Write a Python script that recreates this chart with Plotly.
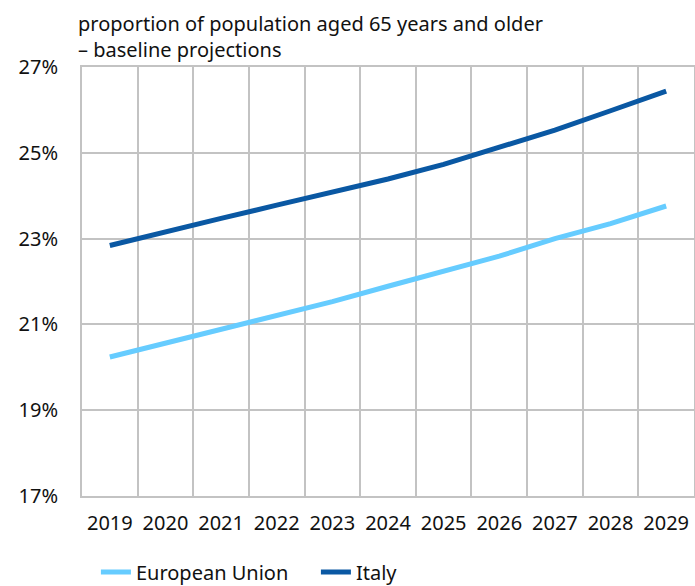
import plotly.graph_objects as go

years = ["2019", "2020", "2021", "2022", "2023", "2024", "2025", "2026", "2027", "2028", "2029"]
eu = [20.24, 20.56, 20.87, 21.20, 21.53, 21.89, 22.24, 22.59, 23.00, 23.35, 23.76]
italy = [22.84, 23.17, 23.47, 23.78, 24.09, 24.39, 24.73, 25.12, 25.53, 25.98, 26.44]
y_ticks = [17, 19, 21, 23, 25, 27]
y_labels = ["17%", "19%", "21%", "23%", "25%", "27%"]

title_text = "proportion of population aged 65 years and older<br>– baseline projections"

FONT = "Noto Sans, sans-serif"
GRID = "#c3c3c3"

fig = go.Figure()
fig.add_trace(go.Scatter(x=years, y=eu, mode="lines", name="European Union",
                         line=dict(color="#66ccff", width=5)))
fig.add_trace(go.Scatter(x=years, y=italy, mode="lines", name="Italy",
                         line=dict(color="#0a58a3", width=5)))

fig.update_layout(
    width=695, height=586,
    margin=dict(l=82, r=1, t=67, b=90, autoexpand=False),
    paper_bgcolor="white", plot_bgcolor="white",
    font=dict(family=FONT, size=20, color="#111111"),
    showlegend=True,
    legend=dict(orientation="h", xref="container", x=0.138, xanchor="left",
                yref="container", y=0.024, yanchor="middle",
                font=dict(size=20), entrywidth=175, tracegroupgap=0),
    annotations=[dict(text=title_text, xref="paper", yref="paper", x=0, y=1,
                      xanchor="left", yanchor="bottom", align="left", showarrow=False,
                      xshift=-6, yshift=2, font=dict(size=20, family=FONT, color="#111111"))],
)
fig.update_xaxes(type="category", range=[-0.5, 10.5], tickson="boundaries",
                 showgrid=True, gridcolor=GRID, gridwidth=2,
                 showline=True, linecolor=GRID, linewidth=2, mirror=True,
                 ticks="", ticklabelstandoff=8, fixedrange=True)
fig.update_yaxes(range=[17, 27], tickvals=y_ticks, ticktext=y_labels,
                 showgrid=True, gridcolor=GRID, gridwidth=2,
                 showline=True, linecolor=GRID, linewidth=2, mirror=True,
                 zeroline=False, ticks="", ticklabelstandoff=18, fixedrange=True)

fig.write_html("out.html")
